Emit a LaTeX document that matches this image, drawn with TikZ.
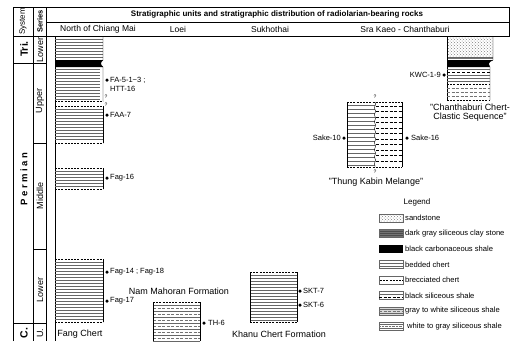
\documentclass[tikz,border=0pt]{standalone}
\usepackage{fontspec}
\setmainfont{Liberation Sans}
\usetikzlibrary{patterns,decorations.pathmorphing}
\colorlet{ColorGr}{black!55}

\tikzset{
  head/.style={font=\fontsize{8.5}{9}\selectfont,inner sep=0pt},
  unit/.style={font=\fontsize{9}{10}\selectfont,inner sep=0pt},
  smp/.style={font=\fontsize{7.5}{8}\selectfont,inner sep=0pt,anchor=west},
  leg/.style={font=\fontsize{7.6}{8}\selectfont,inner sep=0pt,anchor=west},
  rot/.style={rotate=90,inner sep=0pt},
  ser/.style={rotate=90,inner sep=0pt,font=\fontsize{9}{10}\selectfont},
  qm/.style={font=\fontsize{5}{5}\selectfont,inner sep=0pt},
  dot/.style={circle,fill=black,inner sep=0pt,minimum size=3.5pt},
  brec/.style={dash pattern=on 2pt off 1.2pt,line width=0.6pt},
  bed/.style={line width=0.3pt,black!60},
  shl/.style={dash pattern=on 3pt off 1.5pt,line width=0.4pt},
  frame/.style={line width=0.7pt},
}
\newcommand{\chert}[5]{\foreach \yy in {#3,#4,...,#5} \draw[bed] (#1,\yy)--(#2,\yy);}

\begin{document}
\begin{tikzpicture}[x=1pt,y=-1pt]
\useasboundingbox (0,0) rectangle (511,341);
%Frame
\draw[frame] (13,341)--(13,7)--(509,7)--(509,36)--(13,36);
\draw[frame] (33,7)--(33,341) (46,7)--(46,341) (46,22)--(509,22) (55,36)--(55,341);
\draw[frame] (13,63)--(46,63) (13,323)--(46,323) (33,143)--(46,143) (33,249)--(46,249);
%Headings
\node[font=\bfseries\fontsize{8}{9}\selectfont,inner sep=0pt] (title) at (277,14.5)
  {Stratigraphic units and stratigraphic distribution of radiolarian-bearing rocks};
\node[head] (hNC) at (98,29) {North of Chiang Mai};
\node[head] (hLo) at (178,29) {Loei};
\node[head] (hSu) at (270,29) {Sukhothai};
\node[head] (hSK) at (405,29) {Sra Kaeo - Chanthaburi};
%Time scale
\node[rot,font=\fontsize{8}{9}\selectfont] (sys) at (23,21.5) {System};
\node[rot,font=\bfseries\fontsize{7.5}{8}\selectfont] (ser) at (40,21.5) {Series};
\node[rot,font=\bfseries\fontsize{10.5}{11}\selectfont] (tri) at (24,49) {Tri.};
\node[rot,font=\bfseries\fontsize{9.5}{10}\selectfont] (perm) at (24,179) {P e r m i a n};
\node[rot,font=\bfseries\fontsize{10.5}{11}\selectfont] (carb) at (24,333) {C.};
\node[ser] (sTL) at (40,50) {Lower};
\node[ser] (sPU) at (40,101) {Upper};
\node[ser] (sPM) at (40,196) {Middle};
\node[ser] (sPL) at (40,290) {Lower};
\node[ser] (sCU) at (40,333) {U.};
%Fang Chert
\chert{55}{103}{39}{42}{57}
\chert{55}{100}{69}{72}{99}
\fill (55,60)--(103,60) .. controls (100,62) and (100,65) .. (103,67)--(55,67)--cycle;
\draw (103,37)--(103,60) .. controls (100,62) and (100,65) .. (103,67)--(103,101);
\draw[brec] (55,101)--(103,101);
\node[qm] (q1) at (106,97) {?};
\node[qm] (q2) at (106,105) {?};
\chert{55}{103}{109}{112}{141}
\draw[brec] (55,106)--(103,106) (55,143)--(103,143);
\draw (103,106)--(103,143);
\chert{55}{103}{171}{174}{186}
\draw[brec] (55,168)--(103,168) (55,189)--(103,189);
\draw (103,168)--(103,189);
\chert{55}{103}{262}{265}{319}
\draw[brec] (55,259)--(103,259) (55,322)--(103,322);
\draw (103,259)--(103,322);
\node[dot] (dFA) at (107,80) {};
\node[smp] (tFA) at (110,80) {FA-5-1\textasciitilde3 ;};
\node[smp] (tHTT) at (110,89) {HTT-16};
\node[dot] (dFAA) at (107,115) {};
\node[smp] (tFAA) at (110,115) {FAA-7};
\node[dot] (dF16) at (107,178) {};
\node[smp] (tF16) at (110,178) {Fag-16};
\node[dot] (dF14) at (107,272) {};
\node[smp] (tF14) at (110,272) {Fag-14 ; Fag-18};
\node[dot] (dF17) at (107,301) {};
\node[smp] (tF17) at (110,301) {Fag-17};
\node[unit] (fang) at (80,334) {Fang Chert};
%Nam Mahoran
\foreach \yy in {305,311,...,341} \draw[bed] (153,\yy)--(200,\yy);
\foreach \yy in {308,314,...,338} \draw[shl,ColorGr] (153,\yy)--(200,\yy);
\draw (153,341)--(153,302) (200,302)--(200,341);
\draw[brec] (153,302)--(200,302);
\node[dot] (dTH) at (204,323) {};
\node[smp] (tTH) at (208,323) {TH-6};
\node[unit] (nam) at (179,291) {Nam Mahoran Formation};
%Khanu
\chert{250}{297}{275}{278}{320}
\draw (250,272)--(250,322) (297,272)--(297,322);
\draw[brec] (250,272)--(297,272) (250,322)--(297,322);
\node[dot] (dSK7) at (300,291) {};
\node[smp] (tSK7) at (303,291) {SKT-7};
\node[dot] (dSK6) at (300,305) {};
\node[smp] (tSK6) at (303,305) {SKT-6};
\node[unit] (khanu) at (279,334) {Khanu Chert Formation};
%Thung Kabin
\chert{347}{375}{105}{109}{165}
\foreach \yy in {106,111.5,...,164} \draw[shl] (376,\yy)--(402,\yy);
\draw (347,102)--(347,167) (402,102)--(402,167);
\draw[brec] (347,102)--(402,102) (347,167)--(402,167);
\draw[decorate,decoration={snake,amplitude=0.6pt,segment length=7pt}] (375,102)--(375,167);
\node[qm] (q3) at (375,97) {?};
\node[qm] (q4) at (375,172) {?};
\node[dot] (dS10) at (344,138) {};
\node[smp,anchor=east] (tS10) at (341,138) {Sake-10};
\node[dot] (dS16) at (407,138) {};
\node[smp] (tS16) at (411,138) {Sake-16};
\node[unit] (thung) at (376,182) {"Thung Kabin Melange"};
%Chanthaburi
\fill[pattern=crosshatch dots,pattern color=gray] (447,37) rectangle (493,57);
\draw[bed] (447,57)--(493,57);
\draw[bed,ColorGr] (447,58.5)--(493,58.5);
\fill (447,60)--(493,60) .. controls (488,62) and (488,64) .. (490,67)--(447,67)--cycle;
\draw (493,37)--(493,60) .. controls (488,62) and (488,64) .. (490,67)--(490,100);
\draw (447,37)--(447,100);
\draw[bed] (447,69)--(490,69);
\draw[dash pattern=on 3pt off 2pt,line width=0.9pt] (447,72)--(490,72);
\chert{447}{490}{75}{78}{81}
\draw[brec] (447,84)--(490,84);
\foreach \yy in {88,92,96} \draw[shl,ColorGr] (447,\yy)--(490,\yy);
\draw[brec] (447,100)--(490,100);
\node[dot] (dKW) at (444,75) {};
\node[smp,anchor=east] (tKW) at (441,75) {KWC-1-9};
\node[unit] (ch1) at (470,107) {"Chanthaburi Chert-};
\node[unit] (ch2) at (470,117) {Clastic Sequence"};
%Legend
\node[font=\fontsize{8}{9}\selectfont,inner sep=0pt] (leg) at (417,202) {Legend};
\fill[pattern=crosshatch dots,pattern color=gray] (379,214) rectangle (403,222);
\draw[bed] (379,214) rectangle (403,222);
\node[leg] (l1) at (405,218) {sandstone};
\fill[ColorGr] (379,229.5) rectangle (403,237.5);
\foreach \yy in {231,233,235,237} \draw[bed,black!70] (379,\yy)--(403,\yy);
\draw[bed] (379,229.5) rectangle (403,237.5);
\node[leg] (l2) at (405,233.5) {dark gray siliceous clay stone};
\fill (379,245) rectangle (403,253);
\node[leg] (l3) at (405,249) {black carbonaceous shale};
\draw[bed] (379,260.5) rectangle (403,268.5) (379,263.2)--(403,263.2) (379,265.8)--(403,265.8);
\node[leg] (l4) at (405,264.5) {bedded chert};
\draw[bed] (379,276) rectangle (403,284);
\draw[brec] (380,280)--(403,280);
\node[leg] (l5) at (405,280) {brecciated chert};
\draw[bed] (379,291.5) rectangle (403,299.5) (379,294)--(403,294);
\draw[shl] (379,297)--(403,297);
\node[leg] (l6) at (405,295.5) {black siliceous shale};
\fill[black!15] (379,307) rectangle (403,315);
\draw[bed] (379,307) rectangle (403,315) (379,309)--(403,309) (379,313)--(403,313);
\draw[shl,ColorGr] (379,311)--(403,311);
\node[leg] (l7) at (405,311) {gray to white siliceous shale};
\draw[bed] (379,322.5) rectangle (403,330.5) (379,324.5)--(403,324.5) (379,328.5)--(403,328.5);
\draw[densely dotted,ColorGr] (379,326.5)--(403,326.5);
\node[leg] (l8) at (407,326.5) {white to gray siliceous shale};
\end{tikzpicture}
\end{document}
